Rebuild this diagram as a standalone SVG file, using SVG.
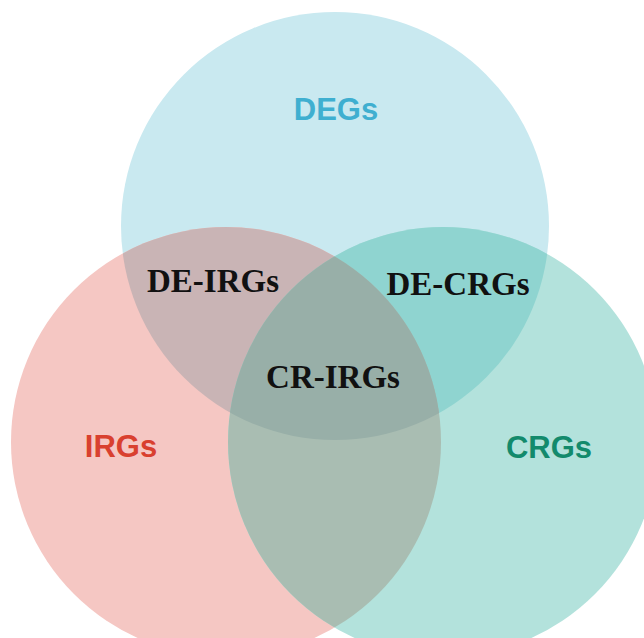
<svg xmlns="http://www.w3.org/2000/svg" width="644" height="638" viewBox="0 0 644 638">
<defs>
<clipPath id="cDEG"><circle cx="335" cy="226" r="214"/></clipPath>
<clipPath id="cIRG"><circle cx="226" cy="442" r="215"/></clipPath>
<clipPath id="cCRG"><circle cx="443" cy="442" r="215"/></clipPath>
<style>
.set{font-family:"Liberation Sans",Arial,sans-serif;font-weight:bold;font-size:31px;text-anchor:middle}
.ovl{font-family:"Liberation Serif","Times New Roman",serif;font-weight:bold;font-size:33px;text-anchor:middle;fill:#111}
</style>
</defs>
<rect width="644" height="638" fill="#ffffff"/>
<g id="DEGs">
<circle cx="335" cy="226" r="214" fill="#c9e9f0"/>
</g>
<g id="IRGs">
<circle cx="226" cy="442" r="215" fill="#f5c7c3"/>
</g>
<g id="CRGs">
<circle cx="443" cy="442" r="215" fill="#b3e2dc"/>
</g>
<g id="DE-IRGs">
<g clip-path="url(#cDEG)"><circle cx="226" cy="442" r="215" fill="#c9b4b5"/></g>
</g>
<g id="DE-CRGs">
<g clip-path="url(#cDEG)"><circle cx="443" cy="442" r="215" fill="#8fd4d0"/></g>
</g>
<g id="IR-CRGs">
<g clip-path="url(#cIRG)"><circle cx="443" cy="442" r="215" fill="#a9bdb2"/></g>
</g>
<g id="CR-IRGs">
<g clip-path="url(#cDEG)"><g clip-path="url(#cIRG)"><circle cx="443" cy="442" r="215" fill="#98afa8"/></g></g>
</g>
<g id="connectors"></g>
<g id="labels">
<text class="set" x="336" y="120" fill="#3fafd0">DEGs</text>
<text class="set" x="121" y="457" fill="#d9402f">IRGs</text>
<text class="set" x="549" y="458" fill="#138a6c">CRGs</text>
<text class="ovl" x="213" y="292">DE-IRGs</text>
<text class="ovl" x="458" y="295">DE-CRGs</text>
<text class="ovl" x="333" y="388">CR-IRGs</text>
</g>
</svg>
